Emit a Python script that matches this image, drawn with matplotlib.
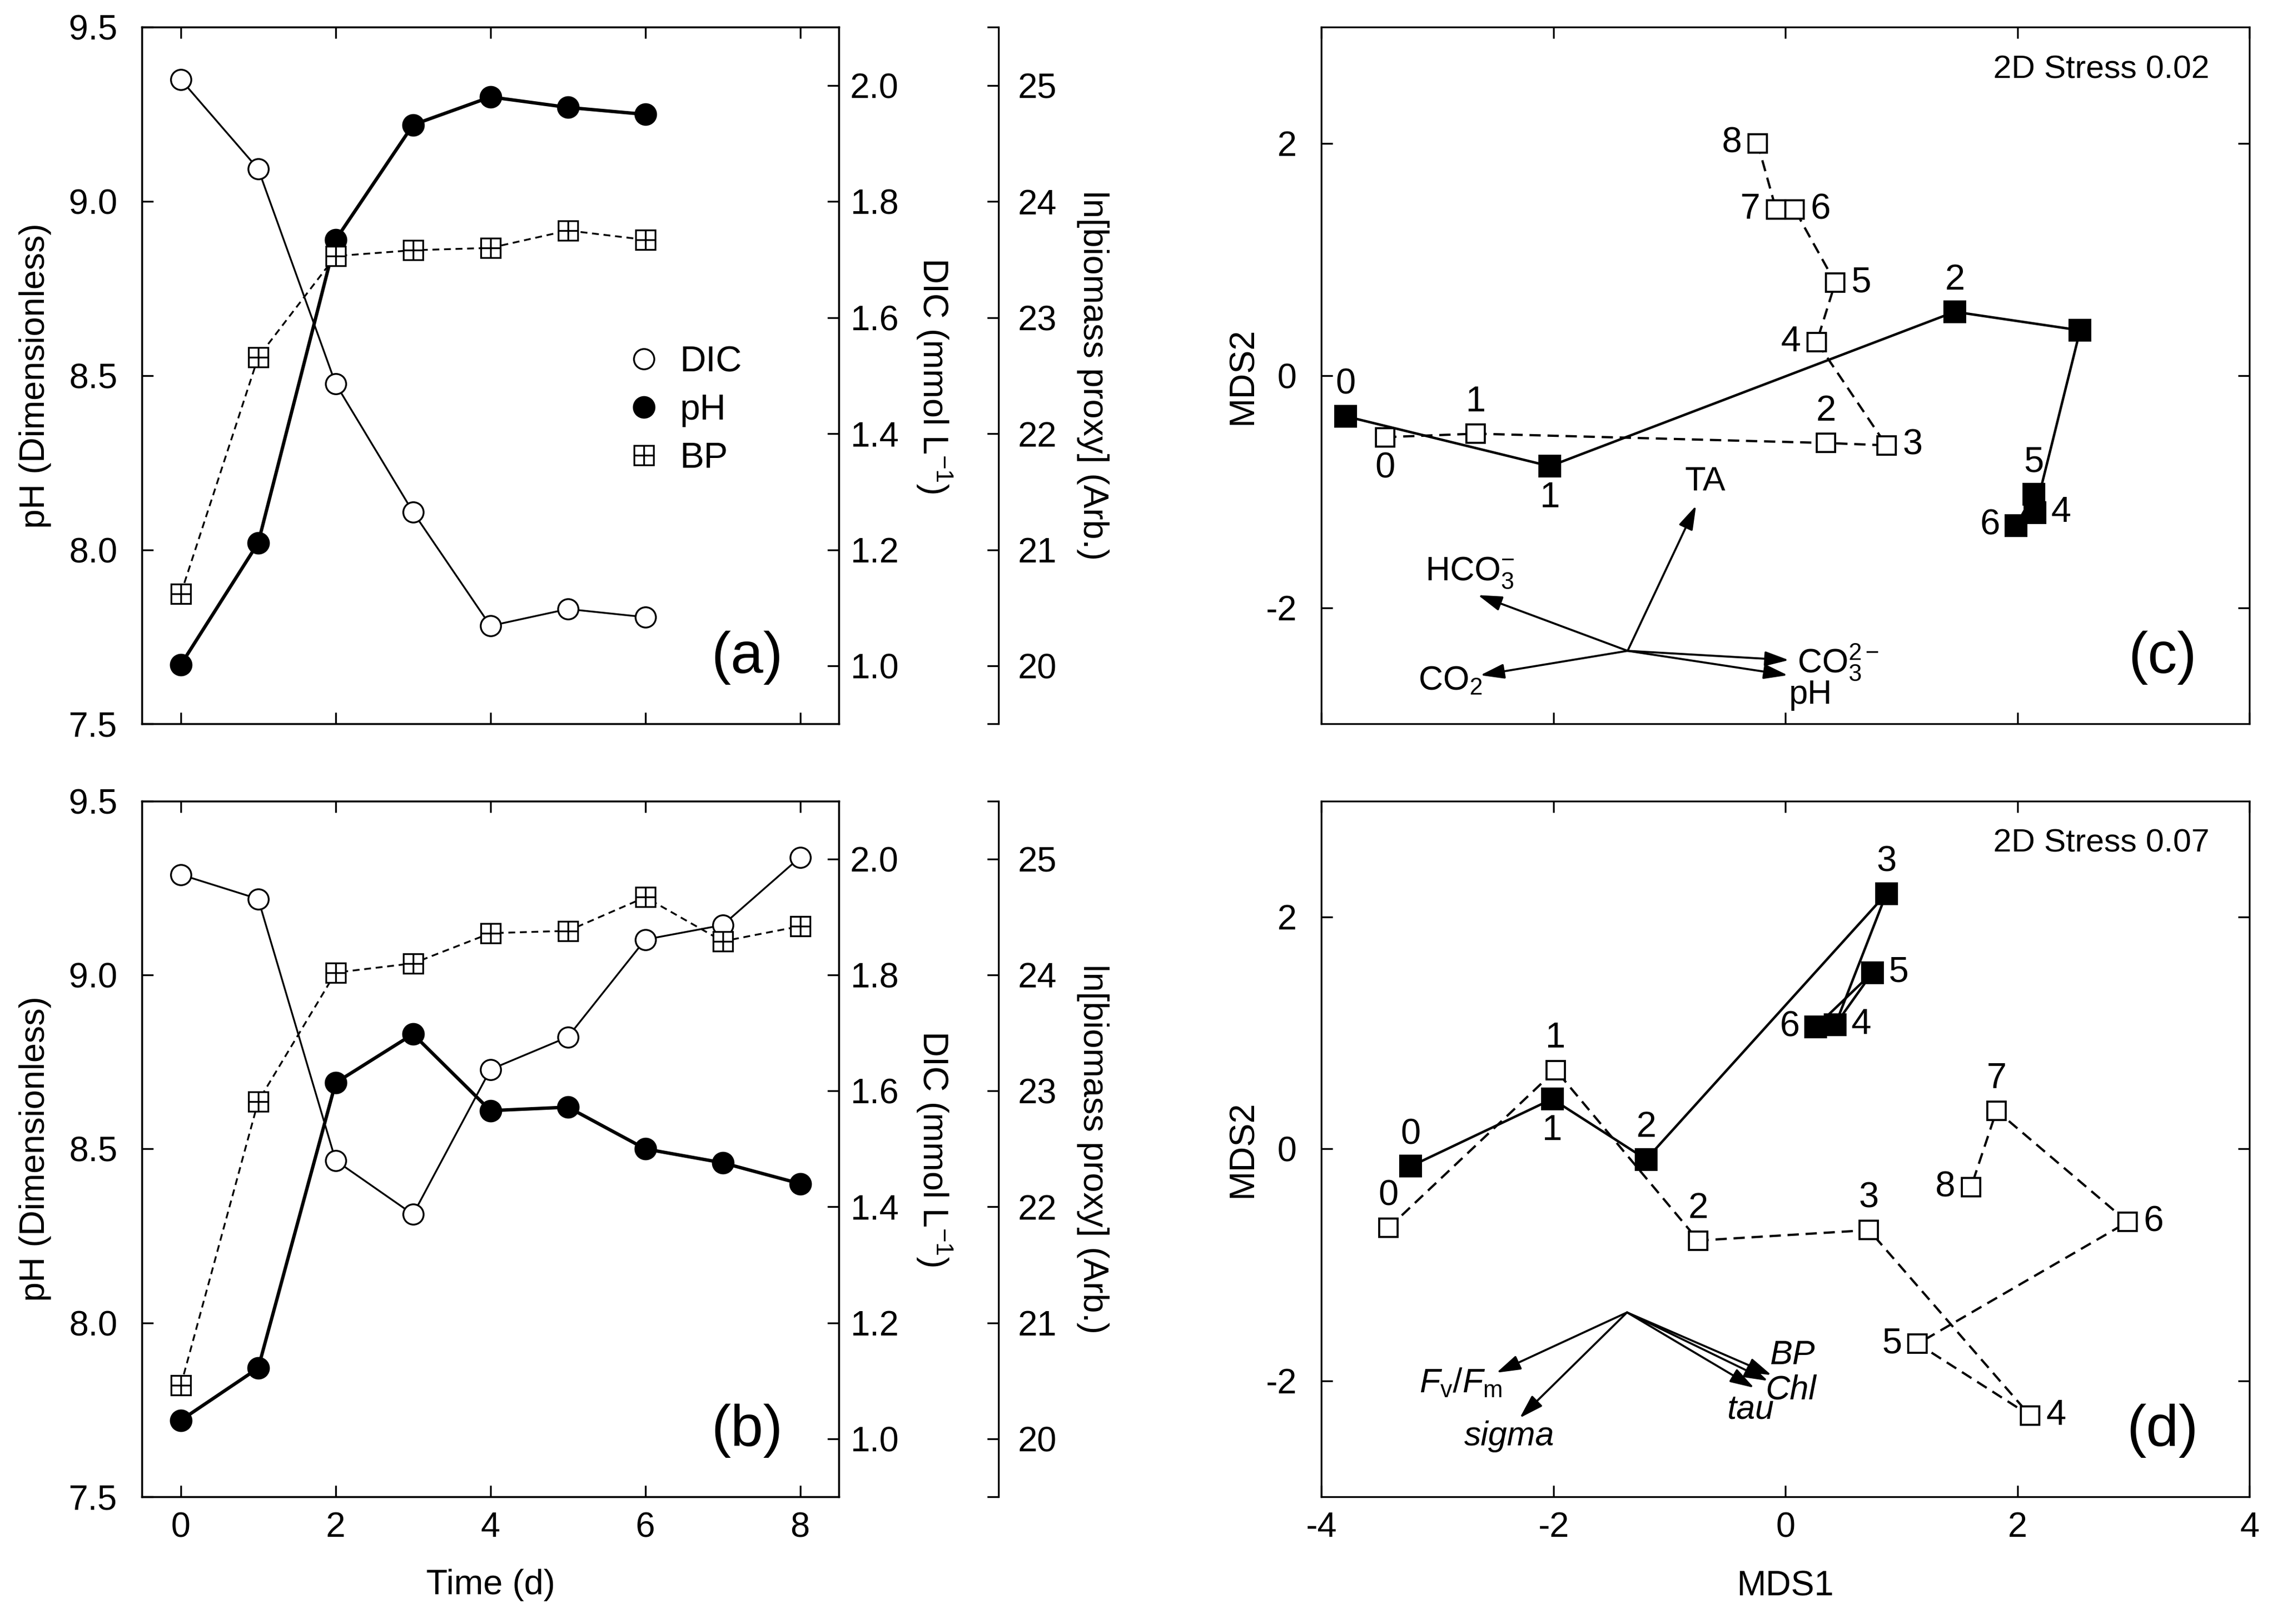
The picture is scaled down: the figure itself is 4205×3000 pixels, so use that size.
import matplotlib
matplotlib.use('Agg')
import matplotlib.pyplot as plt
from matplotlib.lines import Line2D
from matplotlib.legend_handler import HandlerTuple
from matplotlib.ticker import FormatStrFormatter

plt.rcParams['font.family'] = 'Liberation Sans'
plt.rcParams['mathtext.fontset'] = 'custom'
plt.rcParams['mathtext.rm'] = 'Liberation Sans'
plt.rcParams['mathtext.it'] = 'Liberation Sans:italic'
plt.rcParams['mathtext.bf'] = 'Liberation Sans:bold'
plt.rcParams['axes.unicode_minus'] = False
plt.rcParams['axes.linewidth'] = 0.8

# time series, panel (a)
days_a = [0, 1, 2, 3, 4, 5, 6]
ph_a = [7.67, 8.02, 8.89, 9.22, 9.30, 9.27, 9.25]
dic_a = [2.01, 1.856, 1.486, 1.265, 1.069, 1.098, 1.084]
bp_a = [20.62, 22.66, 23.53, 23.58, 23.60, 23.75, 23.67]

# time series, panel (b)
days_b = [0, 1, 2, 3, 4, 5, 6, 7, 8]
ph_b = [7.72, 7.87, 8.69, 8.83, 8.61, 8.62, 8.50, 8.46, 8.40]
dic_b = [1.973, 1.931, 1.480, 1.387, 1.637, 1.693, 1.861, 1.886, 2.003]
bp_b = [20.46, 22.91, 24.02, 24.10, 24.36, 24.38, 24.67, 24.29, 24.42]

# MDS, panel (c)
c_fill_x = [-3.79, -2.03, 1.46, 2.54, 2.15, 2.14, 1.99]
c_fill_y = [-0.35, -0.78, 0.55, 0.39, -1.18, -1.02, -1.29]
c_fill_lab = ['0', '1', '2', '', '4', '5', '6']
c_open_x = [-3.45, -2.67, 0.35, 0.87, 0.27, 0.43, 0.08, -0.08, -0.24]
c_open_y = [-0.53, -0.50, -0.58, -0.60, 0.29, 0.80, 1.43, 1.43, 2.00]
c_open_lab = ['0', '1', '2', '3', '4', '5', '6', '7', '8']
c_origin = (-1.36, -2.37)
c_vec_names = ['TA', 'HCO$_3^{-}$', 'CO$_2$', 'CO$_3^{2-}$', 'pH']
c_vec_x = [-0.77, -2.65, -2.63, 0.03, 0.02]
c_vec_y = [-1.12, -1.89, -2.58, -2.45, -2.58]

# MDS, panel (d)
d_fill_x = [-3.23, -2.01, -1.20, 0.87, 0.43, 0.75, 0.26]
d_fill_y = [-0.15, 0.43, -0.09, 2.20, 1.07, 1.52, 1.05]
d_fill_lab = ['0', '1', '2', '3', '4', '5', '6']
d_open_x = [-3.42, -1.98, -0.75, 0.72, 2.11, 1.14, 2.95, 1.82, 1.60]
d_open_y = [-0.68, 0.68, -0.79, -0.70, -2.30, -1.68, -0.63, 0.33, -0.33]
d_open_lab = ['0', '1', '2', '3', '4', '5', '6', '7', '8']
d_origin = (-1.365, -1.41)
d_vec_names = ['$F_{\\mathrm{v}}/F_{\\mathrm{m}}$', 'sigma', 'BP', 'Chl', 'tau']
d_vec_x = [-2.49, -2.29, -0.12, -0.15, -0.27]
d_vec_y = [-1.93, -2.32, -1.95, -2.00, -2.06]

# where the text goes (placement only)
c_fill_side = ['up', 'down', 'up', None, 'right', 'up', 'left']
c_open_side = ['down', 'up', 'up', 'right', 'left', 'right', 'right', 'left', 'left']
d_fill_side = ['up', 'down', 'up', 'up', 'right', 'right', 'left']
d_open_side = ['up', 'up', 'up', 'up', 'right', 'left', 'right', 'up', 'left']
c_vec_text = [(-0.69, -0.91, 'center'), (-2.72, -1.70, 'center'),
              (-2.89, -2.63, 'center'), (0.10, -2.47, 'left'),
              (0.22, -2.75, 'center')]
d_vec_text = [(-2.80, -2.02, 'center'), (-2.38, -2.48, 'center'),
              (0.06, -1.78, 'center'), (0.05, -2.08, 'center'),
              (-0.30, -2.25, 'center')]

TICK = 15.5
PTLAB = 16
offsets = {'up': (0, 14), 'down': (0, -14), 'left': (-11.5, 0), 'right': (11.5, 0)}

fig = plt.figure(figsize=(4205 / 300, 3000 / 300), dpi=300)
ax_a = fig.add_axes([0.0624, 0.5542, 0.3060, 0.4290])
ax_b = fig.add_axes([0.0624, 0.0783, 0.3060, 0.4285])
ax_c = fig.add_axes([0.5803, 0.5542, 0.4076, 0.4290])
ax_d = fig.add_axes([0.5803, 0.0783, 0.4076, 0.4285])


def timeseries(ax, days, ph, dic, bp, tag, bottom_labels, legend):
    ax.plot(days, ph, '-o', color='k', ms=9, lw=1.5)
    ax.set_xlim(-0.5, 8.5)
    ax.set_ylim(7.5, 9.5)
    ax.set_xticks([0, 2, 4, 6, 8])
    ax.set_yticks([7.5, 8.0, 8.5, 9.0, 9.5])
    ax.yaxis.set_major_formatter(FormatStrFormatter('%.1f'))
    ax.set_ylabel('pH (Dimensionless)', fontsize=TICK, va='center')
    ax.yaxis.set_label_coords(-0.1535, 0.5)

    ax_dic = ax.twinx()
    ax_dic.plot(days, dic, '-o', color='k', mfc='white', mec='k',
                ms=9, mew=0.8, lw=0.8)
    ax_dic.set_ylim(0.9, 2.1)
    ax_dic.set_yticks([1.0, 1.2, 1.4, 1.6, 1.8, 2.0])
    ax_dic.yaxis.set_major_formatter(FormatStrFormatter('%.1f'))
    ax_dic.tick_params(direction='in', length=5, width=0.8, pad=5,
                       labelsize=TICK)
    ax_dic.set_ylabel('DIC (mmol L$^{-1}$)', fontsize=TICK, rotation=270,
                      va='center', ha='center')
    ax_dic.yaxis.set_label_coords(1.137, 0.5)

    ax_bp = ax.twinx()
    for s in ['top', 'bottom', 'left']:
        ax_bp.spines[s].set_visible(False)
    ax_bp.spines['right'].set_position(('axes', 1.2293))
    ax_bp.plot(days, bp, color='k', lw=0.8, ls=(0, (3.8, 2.6)))
    ax_bp.plot(days, bp, ls='none', marker='s', ms=8.6, mfc='white',
               mec='k', mew=0.8)
    ax_bp.plot(days, bp, ls='none', marker='+', ms=8.6, mec='k', mew=0.8)
    ax_bp.set_ylim(19.5, 25.5)
    ax_bp.set_yticks([20, 21, 22, 23, 24, 25])
    ax_bp.set_yticks([19.5, 25.5], minor=True)
    ax_bp.tick_params(which='both', direction='in', length=5, width=0.8,
                      pad=8.6, labelsize=TICK)
    ax_bp.set_ylabel('ln[biomass proxy] (Arb.)', fontsize=TICK, rotation=270,
                     va='center', ha='center')
    ax_bp.yaxis.set_label_coords(1.3646, 0.5)

    ax.tick_params(direction='in', length=5, width=0.8, top=True,
                   right=False, labelsize=TICK, labelbottom=bottom_labels)
    ax.tick_params(axis='y', pad=11)
    ax.tick_params(axis='x', pad=6.5)

    ax_bp.text(0.868, 0.095, tag, transform=ax.transAxes, fontsize=26,
               ha='center', va='center')

    if legend:
        h_dic = Line2D([], [], ls='none', marker='o', mfc='white', mec='k',
                       ms=9, mew=0.8)
        h_ph = Line2D([], [], ls='none', marker='o', color='k', ms=9)
        h_sq = Line2D([], [], ls='none', marker='s', mfc='white', mec='k',
                      ms=8.6, mew=0.8)
        h_pl = Line2D([], [], ls='none', marker='+', mec='k', ms=8.6, mew=0.8)
        ax_bp.legend([h_dic, h_ph, (h_sq, h_pl)], ['DIC', 'pH', 'BP'],
                     handler_map={tuple: HandlerTuple(ndivide=1)},
                     loc='upper left', bbox_to_anchor=(0.694, 0.543),
                     frameon=False, fontsize=16, handlelength=1.0,
                     handletextpad=0.5, labelspacing=0.4, borderpad=0,
                     borderaxespad=0)
    return ax_dic, ax_bp


timeseries(ax_a, days_a, ph_a, dic_a, bp_a, '(a)', False, True)
timeseries(ax_b, days_b, ph_b, dic_b, bp_b, '(b)', True, False)
ax_b.set_xlabel('Time (d)', fontsize=TICK, va='center')
ax_b.xaxis.set_label_coords(0.5, -0.127)


def mds(ax, fx, fy, flab, fside, ox, oy, olab, oside, origin, names,
        vx, vy, vtext, italic, stress, tag, bottom_labels):
    ax.plot(ox, oy, color='k', lw=1.0, ls=(0, (5, 3)))
    ax.plot(ox, oy, ls='none', marker='s', ms=8, mfc='white', mec='k',
            mew=0.9)
    ax.plot(fx, fy, '-s', color='k', lw=1.1, ms=9)
    for x, y, t, s in zip(fx, fy, flab, fside):
        if s:
            ax.annotate(t, (x, y), xytext=offsets[s], textcoords='offset points',
                        ha='center', va='center', fontsize=PTLAB)
    for x, y, t, s in zip(ox, oy, olab, oside):
        ax.annotate(t, (x, y), xytext=offsets[s], textcoords='offset points',
                    ha='center', va='center', fontsize=PTLAB)
    for x, y, n, (tx, ty, ha) in zip(vx, vy, names, vtext):
        ax.annotate('', xy=(x, y), xytext=origin,
                    arrowprops=dict(arrowstyle='-|>,head_length=0.9,head_width=0.28',
                                    color='k', lw=0.9, shrinkA=0, shrinkB=0,
                                    mutation_scale=10))
        ax.text(tx, ty, n, ha=ha, va='center', fontsize=15,
                fontstyle='italic' if italic else 'normal')
    ax.set_xlim(-4, 4)
    ax.set_ylim(-3, 3)
    ax.set_xticks([-4, -2, 0, 2, 4])
    ax.set_yticks([-2, 0, 2])
    ax.tick_params(direction='in', length=5, width=0.8, top=True, right=True,
                   labelsize=TICK, labelbottom=bottom_labels)
    ax.tick_params(axis='y', pad=11)
    ax.tick_params(axis='x', pad=6.5)
    ax.set_ylabel('MDS2', fontsize=TICK, va='center')
    ax.yaxis.set_label_coords(-0.0846, 0.5)
    ax.text(0.957, 0.939, stress, transform=ax.transAxes, ha='right',
            va='center', fontsize=14.5)
    ax.text(0.906, 0.095, tag, transform=ax.transAxes, fontsize=26,
            ha='center', va='center')


mds(ax_c, c_fill_x, c_fill_y, c_fill_lab, c_fill_side, c_open_x, c_open_y,
    c_open_lab, c_open_side, c_origin, c_vec_names, c_vec_x, c_vec_y,
    c_vec_text, False, '2D Stress 0.02', '(c)', False)
mds(ax_d, d_fill_x, d_fill_y, d_fill_lab, d_fill_side, d_open_x, d_open_y,
    d_open_lab, d_open_side, d_origin, d_vec_names, d_vec_x, d_vec_y,
    d_vec_text, True, '2D Stress 0.07', '(d)', True)
ax_d.set_xlabel('MDS1', fontsize=TICK, va='center')
ax_d.xaxis.set_label_coords(0.5, -0.129)

fig.savefig('out.png', dpi=300)
